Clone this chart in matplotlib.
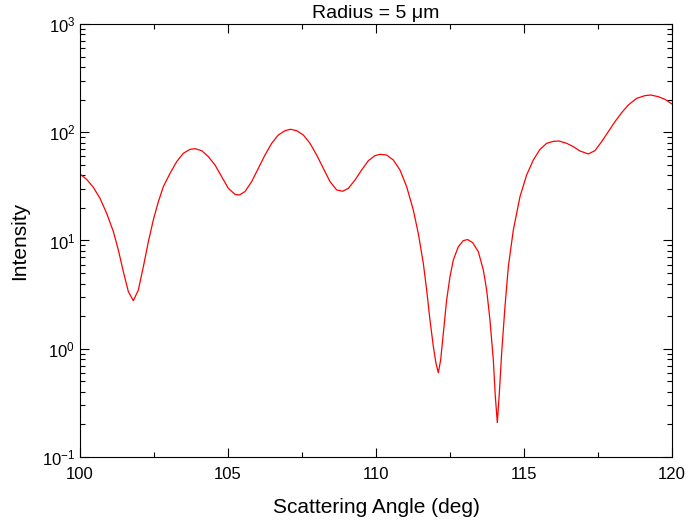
import matplotlib
matplotlib.use("Agg")
import matplotlib.pyplot as plt
from matplotlib.ticker import LogLocator, MultipleLocator

# angle (deg) and intensity
angle = [100.000, 100.225, 100.450, 100.676, 100.901, 101.126, 101.295, 101.464,
         101.633, 101.802, 101.971, 102.140, 102.309, 102.477, 102.646, 102.815,
         103.041, 103.266, 103.491, 103.716, 103.885, 104.110, 104.336, 104.561,
         104.786, 105.011, 105.236, 105.383, 105.574, 105.800, 106.025, 106.250,
         106.475, 106.700, 106.926, 107.117, 107.320, 107.545, 107.770, 107.995,
         108.221, 108.446, 108.671, 108.874, 109.065, 109.291, 109.516, 109.741,
         109.966, 110.135, 110.360, 110.585, 110.811, 111.036, 111.261, 111.430,
         111.599, 111.712, 111.824, 111.937, 112.027, 112.106, 112.185, 112.275,
         112.387, 112.500, 112.612, 112.781, 112.950, 113.097, 113.266, 113.457,
         113.626, 113.739, 113.851, 113.964, 114.032, 114.099, 114.167, 114.245,
         114.358, 114.471, 114.640, 114.865, 115.090, 115.315, 115.541, 115.766,
         115.991, 116.182, 116.441, 116.667, 116.892, 117.173, 117.398, 117.624,
         117.849, 118.074, 118.300, 118.525, 118.806, 119.088, 119.279, 119.538,
         119.764, 120.000]
intensity = [41.1, 36.7, 31.0, 24.5, 17.8, 12.1, 8.17, 5.15,
             3.37, 2.78, 3.49, 5.73, 9.75, 15.5, 22.8, 31.4,
             41.7, 53.5, 63.9, 69.5, 70.5, 67.6, 59.5, 49.8,
             38.9, 30.3, 26.7, 26.3, 28.3, 35.0, 46.4, 61.6,
             79.0, 94.3, 103.4, 106.4, 103.4, 94.3, 79.0, 61.6,
             46.4, 35.0, 29.3, 28.5, 30.3, 36.2, 44.8, 54.6,
             60.8, 62.5, 61.6, 55.4, 44.8, 31.4, 19.1, 11.6,
             6.15, 3.49, 1.84, 1.05, 0.733, 0.601, 0.787, 1.39,
             2.82, 4.63, 6.60, 8.77, 9.97, 10.2, 9.55, 7.88,
             5.34, 3.49, 1.84, 0.787, 0.361, 0.208, 0.388, 0.907,
             2.45, 5.73, 12.5, 25.4, 40.3, 55.4, 69.5, 79.0,
             82.4, 83.0, 79.0, 73.6, 67.1, 63.0, 67.6, 81.8,
             101.2, 125.2, 151.6, 178.6, 205.7, 217.8, 220.8, 213.1,
             201.4, 182.4]

plt.rcParams['font.family'] = ['Liberation Sans', 'DejaVu Sans']
plt.rcParams['mathtext.fontset'] = 'custom'
plt.rcParams['mathtext.rm'] = 'Liberation Sans'
plt.rcParams['mathtext.it'] = 'Liberation Sans:italic'

fig = plt.figure(figsize=(6.88, 5.26), dpi=100)
ax = fig.add_axes([0.1163, 0.1312, 0.8604, 0.8232])

ax.plot(angle, intensity, color='red', linewidth=0.9)

ax.set_yscale('log')
ax.set_xlim(100, 120)
ax.set_ylim(0.1, 1000)
ax.xaxis.set_major_locator(MultipleLocator(5))
ax.xaxis.set_minor_locator(MultipleLocator(2.5))
ax.yaxis.set_major_locator(LogLocator(base=10, numticks=10))
ax.yaxis.set_minor_locator(LogLocator(base=10, subs=range(2, 10), numticks=50))
ax.yaxis.set_minor_formatter(plt.NullFormatter())

ax.tick_params(which='both', direction='in', top=True, right=True, labelsize=12)
ax.tick_params(which='major', length=6.5, width=0.8)
ax.tick_params(which='minor', length=3.8, width=0.8)
ax.tick_params(axis='x', pad=7)

ax.set_xlabel('Scattering Angle (deg)', fontsize=15, labelpad=12)
ax.set_ylabel('Intensity', fontsize=15, labelpad=9)
ax.set_title('Radius = 5 μm', fontsize=14, pad=4)

fig.savefig('out.png', dpi=100)
